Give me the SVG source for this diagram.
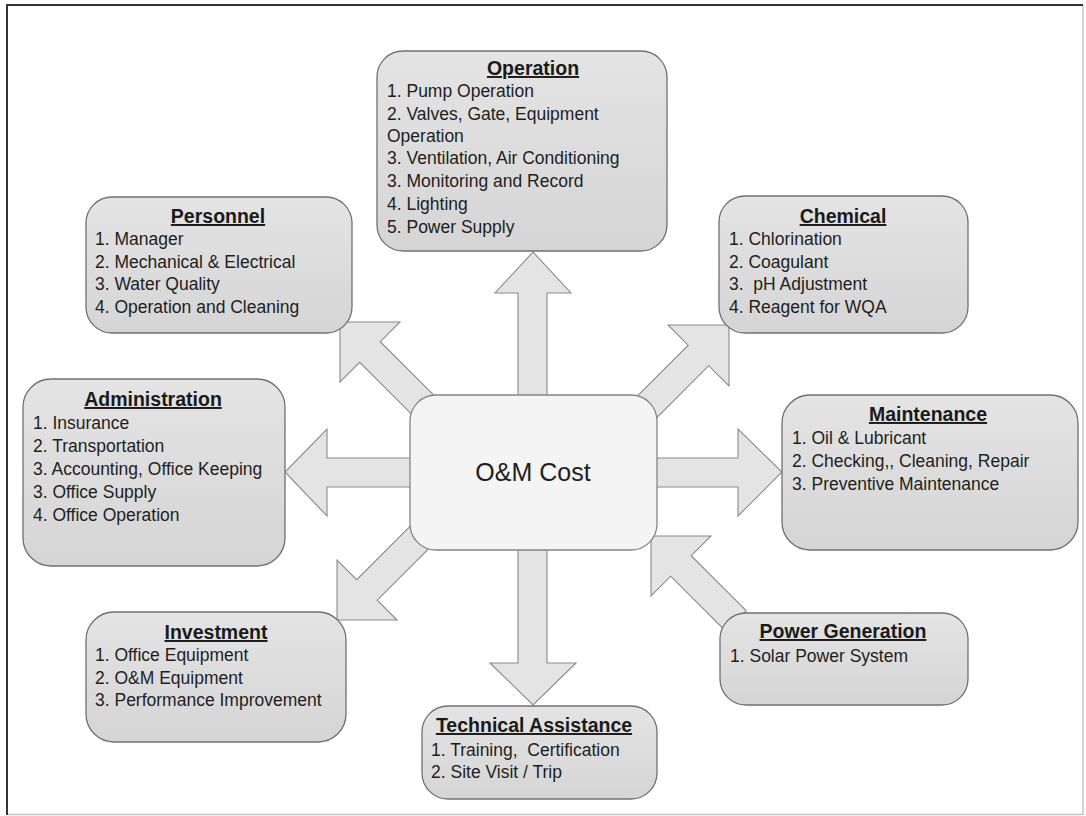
<svg xmlns="http://www.w3.org/2000/svg" width="1086" height="816" viewBox="0 0 1086 816">
<defs>
<linearGradient id="boxg" x1="0" y1="0" x2="0" y2="1">
<stop offset="0" stop-color="#e4e4e4"/>
<stop offset="1" stop-color="#d5d5d5"/>
</linearGradient>
<style>
.box{fill:url(#boxg);stroke:#707070;stroke-width:1.3}
.center{fill:#f4f4f4;stroke:#858585;stroke-width:1.3}
.arrow{fill:#e4e4e4;stroke:#8a8a8a;stroke-width:1.1;stroke-linejoin:miter}
.t{font-family:"Liberation Sans",Arial,sans-serif;font-size:19.5px;font-weight:bold;fill:#1a1a1a;text-anchor:middle;text-decoration:underline}
.i{font-family:"Liberation Sans",Arial,sans-serif;font-size:17.5px;fill:#1e1e1e;white-space:pre}
.c{font-family:"Liberation Sans",Arial,sans-serif;font-size:25px;fill:#1e1e1e;text-anchor:middle}
</style>
</defs>
<rect x="0" y="0" width="1086" height="816" fill="#ffffff"/>
<g id="frame">
<line x1="1083" y1="5" x2="1083" y2="815" stroke="#c4c4c4" stroke-width="1.5"/>
<line x1="7" y1="814.5" x2="1083" y2="814.5" stroke="#c4c4c4" stroke-width="1.5"/>
<line x1="7" y1="5" x2="1083" y2="5" stroke="#333" stroke-width="2"/>
<line x1="7" y1="4" x2="7" y2="815" stroke="#333" stroke-width="2"/>
</g>
<g id="connectors">
<polygon class="arrow" points="518,410 518,293 495,293 533,252 571,293 547,293 547,410"/>
<polygon class="arrow" points="518,540 518,663 490,663 533,705 576,663 547,663 547,540"/>
<polygon class="arrow" points="420,458 327,458 327,429 285,472 327,516 327,487 420,487"/>
<polygon class="arrow" points="645,458 738,458 738,429 782,472 738,516 738,487 645,487"/>
<polygon class="arrow" points="440.3,401.7 380.3,341.7 400,322 340,322 340,382 359.7,362.3 419.7,422.3"/>
<polygon class="arrow" points="614.7,418.7 688.2,345.2 668,325 729,325 729,386 708.7,365.7 635.2,439.2"/>
<polygon class="arrow" points="429.7,506.7 356.7,579.7 337,560 337,620 397,620 377.2,600.2 450.2,527.2"/>
<polygon class="arrow" points="746.2,610.7 691.2,555.7 711,536 651,536 651,596 670.7,576.2 725.7,631.2"/>
</g>
<g id="center">
<rect class="center" x="410" y="395" width="247" height="155" rx="26" ry="26"/>
<text class="c" x="533" y="481">O&amp;M Cost</text>
</g>
<g id="operation">
<rect class="box" x="377" y="51" width="290" height="200" rx="26" ry="26"/>
<text class="t" x="533" y="75">Operation</text>
<text class="i" x="387" y="97">1. Pump Operation</text>
<text class="i" x="387" y="119.5">2. Valves, Gate, Equipment</text>
<text class="i" x="387" y="142">Operation</text>
<text class="i" x="387" y="164">3. Ventilation, Air Conditioning</text>
<text class="i" x="387" y="187">3. Monitoring and Record</text>
<text class="i" x="387" y="209.5">4. Lighting</text>
<text class="i" x="387" y="232.5">5. Power Supply</text>
</g>
<g id="personnel">
<rect class="box" x="86" y="197" width="266" height="136" rx="26" ry="26"/>
<text class="t" x="218" y="223">Personnel</text>
<text class="i" x="95" y="245">1. Manager</text>
<text class="i" x="95" y="267.5">2. Mechanical &amp; Electrical</text>
<text class="i" x="95" y="290">3. Water Quality</text>
<text class="i" x="95" y="313">4. Operation and Cleaning</text>
</g>
<g id="chemical">
<rect class="box" x="719" y="196" width="249" height="137" rx="26" ry="26"/>
<text class="t" x="843" y="223">Chemical</text>
<text class="i" x="729" y="245">1. Chlorination</text>
<text class="i" x="729" y="267.5">2. Coagulant</text>
<text class="i" x="729" y="290">3.  pH Adjustment</text>
<text class="i" x="729" y="313">4. Reagent for WQA</text>
</g>
<g id="administration">
<rect class="box" x="23" y="379" width="262" height="187" rx="28" ry="28"/>
<text class="t" x="153" y="406">Administration</text>
<text class="i" x="33" y="428.5">1. Insurance</text>
<text class="i" x="33" y="452">2. Transportation</text>
<text class="i" x="33" y="475">3. Accounting, Office Keeping</text>
<text class="i" x="33" y="498">3. Office Supply</text>
<text class="i" x="33" y="521">4. Office Operation</text>
</g>
<g id="maintenance">
<rect class="box" x="782" y="395" width="296" height="155" rx="28" ry="28"/>
<text class="t" x="928" y="421">Maintenance</text>
<text class="i" x="792" y="444">1. Oil &amp; Lubricant</text>
<text class="i" x="792" y="467">2. Checking,, Cleaning, Repair</text>
<text class="i" x="792" y="490">3. Preventive Maintenance</text>
</g>
<g id="investment">
<rect class="box" x="86" y="612" width="260" height="130" rx="28" ry="28"/>
<text class="t" x="216" y="639">Investment</text>
<text class="i" x="95" y="661">1. Office Equipment</text>
<text class="i" x="95" y="683.5">2. O&amp;M Equipment</text>
<text class="i" x="95" y="705.5">3. Performance Improvement</text>
</g>
<g id="technical">
<rect class="box" x="422" y="706" width="235" height="93" rx="26" ry="26"/>
<text class="t" x="534" y="732">Technical Assistance</text>
<text class="i" x="431" y="756">1. Training,  Certification</text>
<text class="i" x="431" y="778">2. Site Visit / Trip</text>
</g>
<g id="power">
<rect class="box" x="720" y="613" width="248" height="92" rx="26" ry="26"/>
<text class="t" x="843" y="638">Power Generation</text>
<text class="i" x="730" y="662">1. Solar Power System</text>
</g>
</svg>
